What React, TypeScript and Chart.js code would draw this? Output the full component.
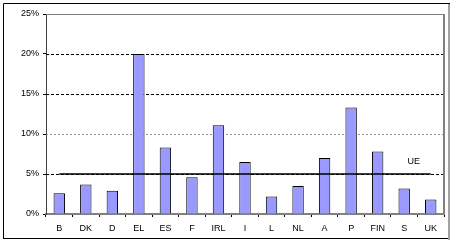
import React, { useEffect, useRef } from "react";
import { Chart, registerables } from "chart.js";

Chart.register(...registerables);

const categories = ["B", "DK", "D", "EL", "ES", "F", "IRL", "I", "L", "NL", "A", "P", "FIN", "S", "UK"];
const values = [2.6, 3.7, 2.9, 20.0, 8.3, 4.6, 11.1, 6.5, 2.2, 3.5, 7.0, 13.3, 7.8, 3.2, 1.8];
const ueValue = 5;
const ueValues = categories.map(() => ueValue);
const yTicks = [0, 5, 10, 15, 20, 25];
const ueLabel = "UE";

const FONT = "'Liberation Sans', Arial, sans-serif";

const framePlugin = {
  id: "frame",
  beforeDraw(chart: any) {
    const { ctx, width, height } = chart;
    ctx.save();
    ctx.fillStyle = "#ffffff";
    ctx.fillRect(0, 0, width, height);
    // outer frame
    ctx.strokeStyle = "#000000";
    ctx.lineWidth = 1;
    ctx.beginPath();
    ctx.moveTo(3.5, 238.5);
    ctx.lineTo(3.5, 3.5);
    ctx.lineTo(450, 3.5);
    ctx.stroke();
    ctx.beginPath();
    ctx.moveTo(3, 238.5);
    ctx.lineTo(448, 238.5);
    ctx.stroke();
    ctx.strokeStyle = "#a0a0a0";
    ctx.lineWidth = 2;
    ctx.beginPath();
    ctx.moveTo(449, 4);
    ctx.lineTo(449, 240);
    ctx.stroke();
    ctx.restore();
  },
  beforeDatasetsDraw(chart: any) {
    const { ctx, chartArea, scales } = chart;
    const y = scales.y;
    ctx.save();
    yTicks.forEach((v) => {
      if (v === 0) return;
      const py = Math.round(y.getPixelForValue(v)) + 0.5;
      if (v === 25) {
        ctx.setLineDash([]);
        ctx.strokeStyle = "#808080";
      } else if (v === 10) {
        ctx.setLineDash([2, 2]);
        ctx.strokeStyle = "#909090";
      } else {
        ctx.setLineDash([3, 2]);
        ctx.strokeStyle = "#000000";
      }
      ctx.lineWidth = 1;
      ctx.beginPath();
      ctx.moveTo(chartArea.left, py);
      ctx.lineTo(chartArea.right, py);
      ctx.stroke();
    });
    ctx.setLineDash([]);
    ctx.strokeStyle = "#808080";
    ctx.lineWidth = 2;
    ctx.beginPath();
    ctx.moveTo(chartArea.right, chartArea.top);
    ctx.lineTo(chartArea.right, chartArea.bottom);
    ctx.stroke();
    ctx.restore();
  },
  afterDatasetsDraw(chart: any) {
    const { ctx, scales } = chart;
    const x = scales.x;
    const y = scales.y;
    const step = x.getPixelForValue(1) - x.getPixelForValue(0);
    ctx.save();
    ctx.fillStyle = "#000000";
    ctx.font = `9px ${FONT}`;
    ctx.textAlign = "center";
    ctx.textBaseline = "middle";
    ctx.fillText(ueLabel, x.getPixelForValue(categories.length - 2) + step * 0.36, y.getPixelForValue(6.5));
    ctx.restore();
  },
};

export default function App() {
  const ref = useRef<HTMLCanvasElement>(null);
  useEffect(() => {
    document.body.style.margin = "0";
    const chart = new Chart(ref.current as HTMLCanvasElement, {
      type: "bar",
      data: {
        labels: categories,
        datasets: [
          {
            type: "line",
            label: ueLabel,
            data: ueValues,
            borderColor: "#000000",
            borderWidth: 1.5,
            pointRadius: 0,
            fill: false,
            order: 0,
          } as any,
          {
            type: "bar",
            label: "values",
            data: values,
            backgroundColor: "#9999ff",
            borderColor: "#000000",
            borderWidth: 1,
            categoryPercentage: 1,
            barPercentage: 0.43,
            order: 1,
          },
        ],
      },
      options: {
        animation: false,
        responsive: false,
        maintainAspectRatio: false,
        layout: { padding: { left: 0, right: 10, top: 14, bottom: 0 } },
        plugins: { legend: { display: false }, tooltip: { enabled: false } },
        scales: {
          x: {
            afterFit: (s: any) => {
              s.height = 29;
            },
            grid: {
              offset: true,
              drawOnChartArea: false,
              drawTicks: true,
              tickLength: 3,
              color: "#000000",
            },
            border: { color: "#808080", width: 2 },
            ticks: {
              color: "#000000",
              font: { family: FONT, size: 9 },
              padding: 6,
              maxRotation: 0,
              autoSkip: false,
            },
          },
          y: {
            min: 0,
            max: 25,
            afterFit: (s: any) => {
              s.width = 46;
            },
            grid: {
              drawOnChartArea: false,
              drawTicks: true,
              tickLength: 3,
              color: "#000000",
            },
            border: { color: "#404040", width: 1 },
            ticks: {
              stepSize: 5,
              color: "#000000",
              font: { family: FONT, size: 9 },
              padding: 4,
              callback: (v: any) => `${v}%`,
            },
          },
        },
      },
      plugins: [framePlugin],
    });
    return () => chart.destroy();
  }, []);
  return (
    <div style={{ width: 454, height: 243 }}>
      <canvas ref={ref} width={454} height={243} style={{ display: "block" }} />
    </div>
  );
}
